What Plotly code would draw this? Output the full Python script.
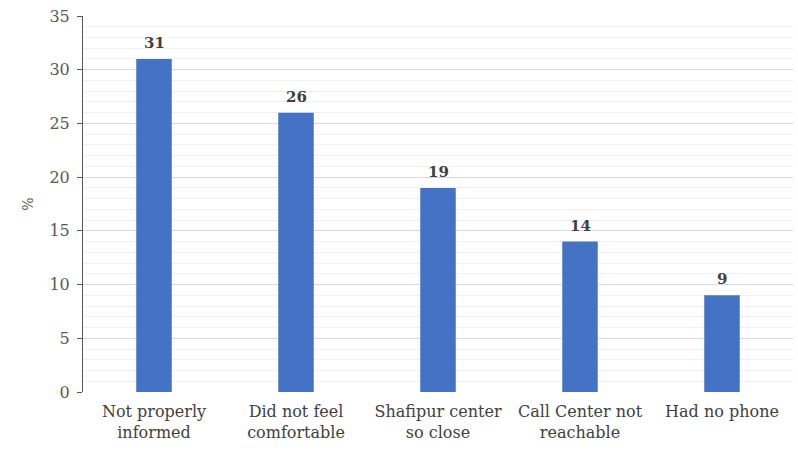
import plotly.graph_objects as go

categories = ["Not properly<br>informed", "Did not feel<br>comfortable", "Shafipur center<br>so close",
              "Call Center not<br>reachable", "Had no phone"]
values = [31, 26, 19, 14, 9]
y_ticks = [0, 5, 10, 15, 20, 25, 30, 35]

serif = "DejaVu Serif"

fig = go.Figure(go.Bar(
    x=categories,
    y=values,
    marker=dict(color="#4472C4", line=dict(width=0)),
    width=0.25,
))

# value labels above each bar
for cat, v in zip(categories, values):
    fig.add_annotation(
        x=cat, y=v, text=f"<b>{v}</b>", showarrow=False,
        yanchor="bottom", yshift=5,
        font=dict(family=serif, size=15, color="#404040"),
    )

fig.update_layout(
    width=798, height=452,
    margin=dict(l=83, r=5, t=16, b=60),
    paper_bgcolor="white", plot_bgcolor="white",
    showlegend=False,
    font=dict(family=serif, color="#404040"),
    xaxis=dict(
        showgrid=False, showline=False, ticks="",
        tickfont=dict(family=serif, size=16, color="#404040"),
        ticklabelstandoff=8,
    ),
    yaxis=dict(
        range=[0, 35], tickvals=y_ticks,
        showgrid=True, gridcolor="#d9d9d9", gridwidth=1,
        minor=dict(dtick=1, showgrid=True, gridcolor="#f0f0f0", gridwidth=1),
        showline=True, linecolor="#595959", linewidth=1,
        ticks="outside", ticklen=5, tickcolor="#595959",
        tickfont=dict(family=serif, size=16, color="#595959"),
        ticklabelstandoff=4,
        zeroline=False,
        title=dict(text="%", font=dict(family=serif, size=14, color="#595959"), standoff=12),
    ),
)

fig.write_html("out.html")
